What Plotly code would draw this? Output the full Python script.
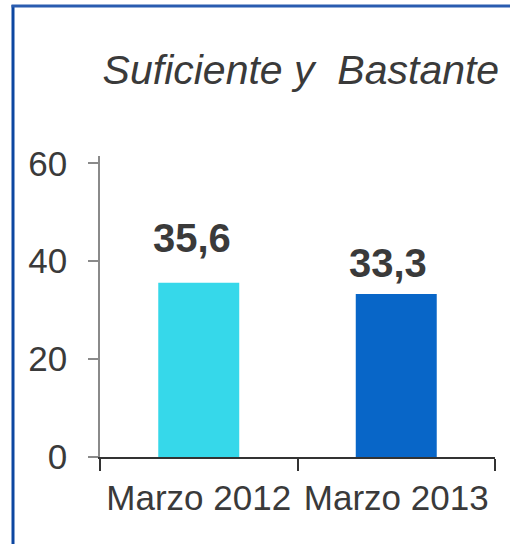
import plotly.graph_objects as go

categories = ["Marzo 2012", "Marzo 2013"]
values = [35.6, 33.3]
colors = ["#36d8ea", "#0866c8"]
y_ticks = [0, 20, 40, 60]
title_text = "Suficiente y  Bastante"

# label offsets (pixels) - style only
label_yshift = [21, 7]
label_xshift = [-7, -8]

FONT = "Liberation Sans, Arial, sans-serif"

fig = go.Figure()
fig.add_trace(go.Bar(
    x=categories, y=values, marker=dict(color=colors, line=dict(width=0)),
    width=0.41, showlegend=False, hoverinfo="skip",
))

for c, v, ys, xs in zip(categories, values, label_yshift, label_xshift):
    fig.add_annotation(
        x=c, y=v, xref="x", yref="y", text=f"{v:.1f}".replace(".", ","),
        showarrow=False, yanchor="bottom", yshift=ys, xshift=xs,
        font=dict(family=FONT, size=40, color="#3a3a3a", weight="bold"),
    )

fig.update_layout(
    width=510, height=544,
    margin=dict(l=100, r=15, t=156, b=87),
    paper_bgcolor="white", plot_bgcolor="white",
    title=dict(
        text=title_text, xref="container", yref="container",
        x=0.59, xanchor="center", y=1 - 70 / 544, yanchor="middle",
        font=dict(family=FONT, size=41, color="#3a3a3a", style="italic"),
    ),
    xaxis=dict(
        showline=True, linecolor="#333333", linewidth=2,
        ticks="outside", ticklen=12, tickwidth=2, tickcolor="#333333",
        tickson="boundaries", showgrid=False, zeroline=False,
        tickfont=dict(family=FONT, size=35, color="#3a3a3a"),
        ticklabelstandoff=9,
    ),
    yaxis=dict(
        range=[0, 61.5], tickvals=y_ticks, showline=True, linecolor="#8a8a8a",
        linewidth=1.5, ticks="outside", ticklen=10, tickwidth=1.5,
        tickcolor="#8a8a8a", showgrid=False, zeroline=False,
        tickfont=dict(family=FONT, size=35, color="#3a3a3a"),
        ticklabelstandoff=14,
    ),
    shapes=[
        dict(type="line", xref="paper", yref="paper",
             x0=(13 - 100) / 395, x1=(13 - 100) / 395,
             y0=(457 - 5) / 301, y1=(457 - 548) / 301,
             line=dict(color="#0d47a1", width=3)),
        dict(type="line", xref="paper", yref="paper",
             x0=(11.5 - 100) / 395, x1=(515 - 100) / 395,
             y0=(457 - 6) / 301, y1=(457 - 6) / 301,
             line=dict(color="#2a5cb0", width=3)),
    ],
)

fig.write_html("out.html")
